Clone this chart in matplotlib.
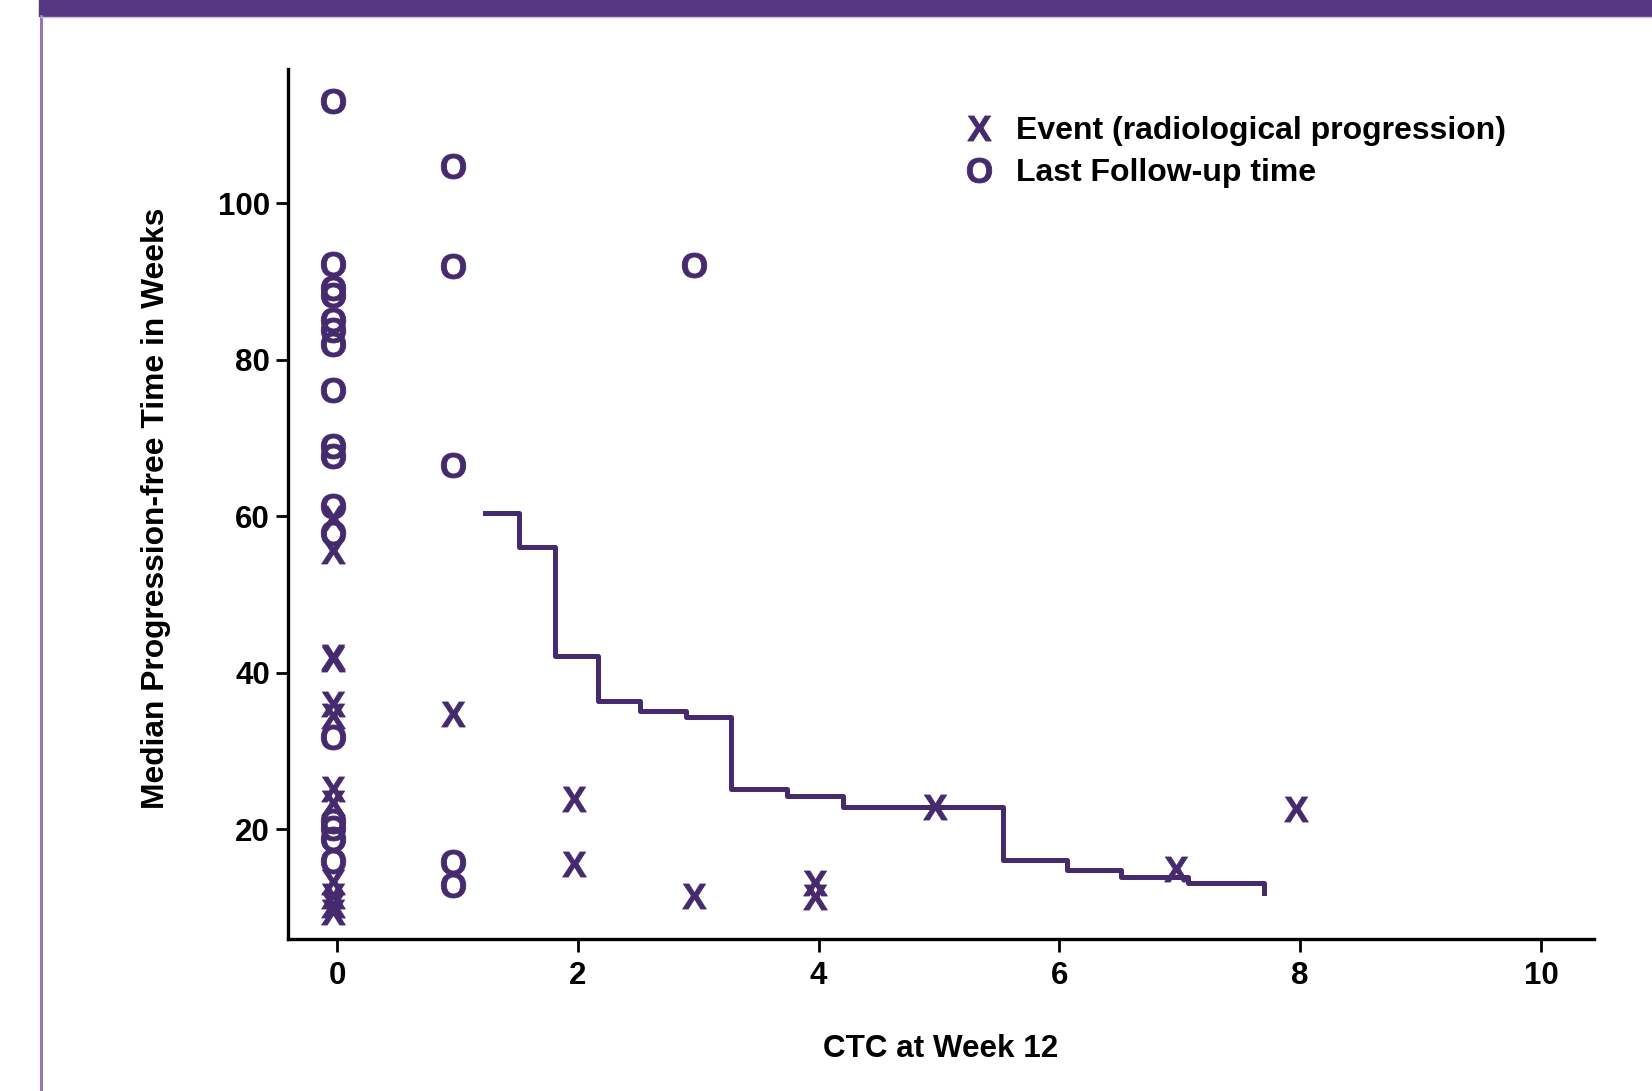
import matplotlib
matplotlib.use("Agg")
import matplotlib.pyplot as plt
from matplotlib.lines import Line2D
from matplotlib.patches import Rectangle
from matplotlib.transforms import ScaledTranslation

plt.rcParams['font.family'] = ['Liberation Sans', 'DejaVu Sans']
plt.rcParams['font.weight'] = 'bold'
plt.rcParams['mathtext.fontset'] = 'custom'
plt.rcParams['mathtext.rm'] = 'Liberation Sans:bold'
plt.rcParams['mathtext.bf'] = 'Liberation Sans:bold'

# ---- data ----
event_x = [0, 0, 0, 0, 0, 0, 0, 0, 0, 0, 0, 0,
           1, 2, 2, 3, 4, 4, 5, 7, 8]
event_y = [59.8, 55.5, 42, 36, 34.5, 25.1, 23.4, 13.3, 11.5, 10.3, 9.4, 41.7,
           34.7, 23.8, 15.6, 11.5, 13.1, 11.4, 22.8, 14.9, 22.6]

followup_x = [0, 0, 0, 0, 0, 0, 0, 0, 0, 0, 0, 0, 0, 0, 0, 0, 0,
              1, 1, 1, 1, 1, 3]
followup_y = [113, 92.2, 89.1, 88.3, 85.1, 83.8, 82.0, 76.1, 69.0, 67.7,
              61.3, 57.8, 31.8, 21.1, 20.1, 18.8, 15.9,
              104.8, 92.0, 66.6, 15.8, 12.9, 92.1]

median_x = [1.225, 1.51, 1.81, 2.17, 2.52, 2.90, 3.27, 3.74, 4.20, 5.53,
            6.06, 6.51, 7.07, 7.70]
median_y = [60.4, 56.1, 42.1, 36.4, 35.1, 34.3, 25.1, 24.2, 22.9, 16.1,
            14.8, 13.9, 13.1, 11.8]

xticks = [0, 2, 4, 6, 8, 10]
yticks = [20, 40, 60, 80, 100]
legend_labels = ["Event (radiological progression)", "Last Follow-up time"]

purple = '#452a6e'

fig = plt.figure(figsize=(16.52, 10.91), dpi=100)
ax = fig.add_axes([0.1743, 0.1393, 0.9649 - 0.1743, 0.9372 - 0.1393])

# frame decoration
fig.patches.append(Rectangle((39 / 1652, 1 - 16 / 1091), 1, 16 / 1091,
                             transform=fig.transFigure, color='#553681', zorder=0))
fig.add_artist(Line2D([41 / 1652, 41 / 1652], [0, 1 - 16 / 1091],
                      transform=fig.transFigure, color='#9079b4', lw=2.2))
fig.add_artist(Line2D([41 / 1652, 1], [1 - 17 / 1091, 1 - 17 / 1091],
                      transform=fig.transFigure, color='#c9bddb', lw=1.0))

ms = 18
mark_tr = ax.transData + ScaledTranslation(-4 / 100, 0, fig.dpi_scale_trans)
ax.plot(followup_x, followup_y, ls='none', marker=r'$\mathrm{O}$', ms=ms,
        color=purple, mec=purple, mew=0.6, transform=mark_tr)
ax.plot(event_x, event_y, ls='none', marker=r'$\mathrm{X}$', ms=ms,
        color=purple, mec=purple, mew=0.6, transform=mark_tr)
ax.step(median_x, median_y, where='post', color=purple, lw=3.6)

ax.set_xlim(-0.408, 10.44)
ax.set_ylim(5.97, 117.2)
ax.set_xticks(xticks)
ax.set_yticks(yticks)
ax.tick_params(axis='both', length=9, width=2, labelsize=22.5, color='black')
ax.tick_params(axis='x', pad=7)
ax.tick_params(axis='y', pad=4)
for lab in ax.get_xticklabels() + ax.get_yticklabels():
    lab.set_fontweight('bold')

for s in ['top', 'right']:
    ax.spines[s].set_visible(False)
for s in ['left', 'bottom']:
    ax.spines[s].set_linewidth(2.4)

ax.set_xlabel("CTC at Week 12", fontsize=22.6, fontweight='bold')
ax.set_ylabel("Median Progression-free Time in Weeks", fontsize=22.9, fontweight='bold')
ax.xaxis.label.set_va('center')
ax.yaxis.label.set_va('center')
ax.xaxis.set_label_coords(0.5, -0.1266)
ax.yaxis.set_label_coords(-0.101, 0.495)

handles = [Line2D([], [], ls='none', marker=r'$\mathrm{X}$', ms=ms, color=purple, mew=0.6),
           Line2D([], [], ls='none', marker=r'$\mathrm{O}$', ms=ms, color=purple, mew=0.6)]
leg = ax.legend(handles, legend_labels, loc='upper left', bbox_to_anchor=(0.5166, 0.945),
                frameon=False, fontsize=23, handlelength=1.0, handletextpad=0.68,
                labelspacing=0.36, borderpad=0, borderaxespad=0)
for t in leg.get_texts():
    t.set_fontweight('bold')

fig.savefig("out.png", dpi=100)
